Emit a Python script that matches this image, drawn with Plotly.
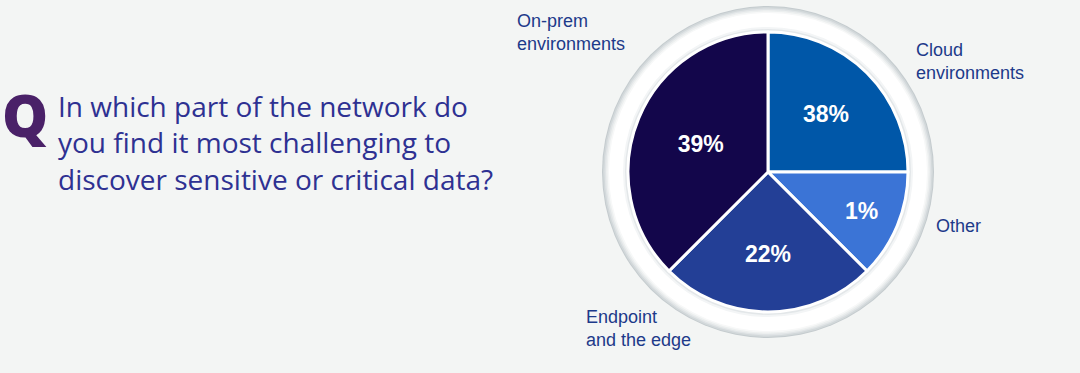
import plotly.graph_objects as go

# ---- data ----
categories = ["Cloud environments", "Other", "Endpoint and the edge", "On-prem environments"]
slice_degrees = [90, 45, 90, 135]          # drawn angular size of each slice
pct_labels = ["38%", "1%", "22%", "39%"]   # printed values
slice_colors = ["#0057A8", "#3B74D6", "#233F96", "#13064B"]
question = ("In which part of the network do<br>you find it most challenging to<br>"
            "discover sensitive or critical data?")

W, H = 1080, 373
cx, cy, r = 768, 172, 140  # pixel geometry of the pie

def px(x):
    return x / W

def py(y):
    return 1 - y / H

fig = go.Figure()
fig.add_trace(go.Pie(
    labels=categories,
    values=slice_degrees,
    text=pct_labels,
    textinfo="text",
    textposition="inside",
    insidetextorientation="horizontal",
    textfont=dict(family="Liberation Sans, Arial", size=23, color="white", weight="bold"),
    marker=dict(colors=slice_colors, line=dict(color="white", width=3)),
    sort=False,
    direction="clockwise",
    rotation=0,
    showlegend=False,
    hoverinfo="label+text",
    domain=dict(x=[px(cx - r), px(cx + r)], y=[py(cy + r), py(cy - r)]),
))

# outer bezel ring (concentric circles imitating a soft gradient)
rings = [(166, "#c4cbce"), (165, "#d2d8da"), (163.5, "#e0e4e6"), (162, "#ecefef"),
         (160.5, "#f7f8f8"), (159, "#ffffff"), (145, "#f3f5f6"), (143, "#e3e7e9")]
shapes = []
for rr, col in rings:
    shapes.append(dict(type="circle", xref="paper", yref="paper", layer="below",
                       x0=px(cx - rr), x1=px(cx + rr), y0=py(cy + rr), y1=py(cy - rr),
                       fillcolor=col, line=dict(width=0)))

label_font = dict(family="Liberation Sans, Arial", size=18, color="#1D3A8A")
annotations = [
    dict(text="Q", x=px(0), y=py(114), xanchor="left", yanchor="middle",
         font=dict(family="Open Sans", size=58, color="#4A2168", weight=800)),
    dict(text=question, x=px(56), y=py(142), xanchor="left", yanchor="middle", align="left",
         font=dict(family="Open Sans", size=28, color="#2E3192")),
    dict(text="On-prem<br>environments", x=px(515), y=py(32), xanchor="left", yanchor="middle",
         align="left", font=label_font),
    dict(text="Cloud<br>environments", x=px(914), y=py(61), xanchor="left", yanchor="middle",
         align="left", font=label_font),
    dict(text="Other", x=px(934), y=py(226), xanchor="left", yanchor="middle",
         align="left", font=label_font),
    dict(text="Endpoint<br>and the edge", x=px(584), y=py(328), xanchor="left", yanchor="middle",
         align="left", font=label_font),
]
for a in annotations:
    a.update(xref="paper", yref="paper", showarrow=False)

fig.update_layout(
    width=W, height=H,
    margin=dict(l=0, r=0, t=0, b=0),
    paper_bgcolor="#F3F5F4",
    plot_bgcolor="#F3F5F4",
    shapes=shapes,
    annotations=annotations,
)

fig.write_html("out.html", config={"displayModeBar": False},
               post_script="document.body.style.margin='0';document.body.style.background='#F3F5F4';")
